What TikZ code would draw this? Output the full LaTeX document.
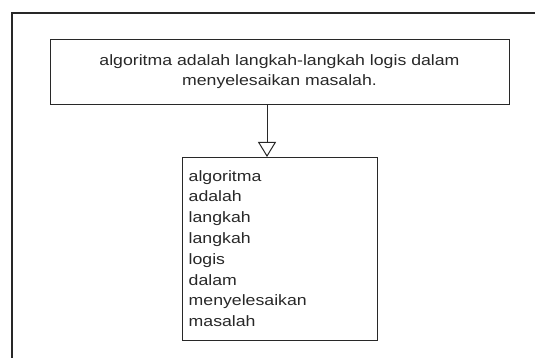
\documentclass[tikz,border=0pt]{standalone}
\usepackage{fontspec}
\setmainfont{Liberation Sans}
\newfontfamily\diafont[FakeStretch=1.18]{Liberation Sans}
\usetikzlibrary{arrows.meta}
\definecolor{ink}{RGB}{40,40,40}
\begin{document}
\begin{tikzpicture}[x=1pt,y=1pt,
  every node/.style={font=\diafont\fontsize{15}{20.3}\selectfont, text=ink},
  box/.style={draw=ink, line width=1pt, fill=white, inner sep=0pt},
  link/.style={draw=ink, line width=1pt, -{Triangle[open, length=15pt, width=18pt, fill=white]}}]
  \useasboundingbox[fill=white] (0,0) rectangle (535,-358);
  % outer frame (partially visible)
  \coordinate (fb) at (12,-358);
  \coordinate (fc) at (12,-13);
  \coordinate (fr) at (535,-13);
  \draw[ink, line width=1.1pt] (fb) -- (fc) -- (fr);
  % top box
  \node[box, minimum width=459pt, minimum height=65pt, anchor=north west] (top) at (50,-39) {};
  \node[align=center] (topText) at (279.5,-71.5) {algoritma adalah langkah-langkah logis dalam\\menyelesaikan masalah.};
  % bottom box
  \node[box, minimum width=195pt, minimum height=183pt, anchor=north west] (bot) at (182,-157) {};
  \node[anchor=north west, align=left, inner sep=0pt,
        font=\diafont\fontsize{15}{20.8}\selectfont] (botText) at (188.5,-170) {algoritma\\adalah\\langkah\\langkah\\logis\\dalam\\menyelesaikan\\masalah};
  % connector
  \coordinate (ax) at (267,0);
  \draw[link] (top.south -| ax) -- (bot.north -| ax);
\end{tikzpicture}
\end{document}
